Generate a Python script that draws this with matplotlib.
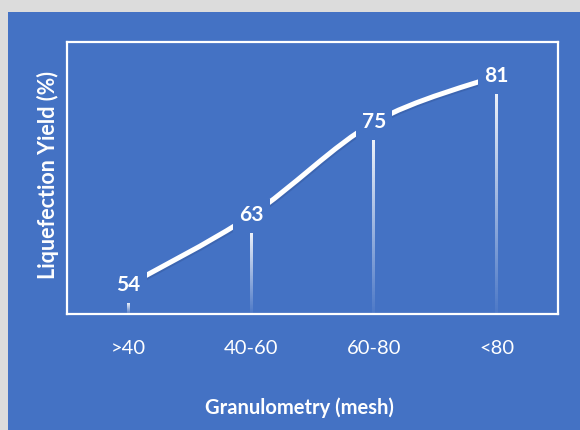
import numpy as np
import matplotlib
matplotlib.use("Agg")
import matplotlib.pyplot as plt
from matplotlib.path import Path
from matplotlib.patches import PathPatch, Rectangle
from matplotlib.transforms import offset_copy
import matplotlib.patheffects as pe

# liquefaction yield by particle size class
granulometry = [">40", "40-60", "60-80", "<80"]
yield_pct = [54, 63, 75, 81]

BLUE = "#4472C4"
plt.rcParams["font.family"] = ["Lato", "DejaVu Sans"]

fig = plt.figure(figsize=(5.8, 4.3), dpi=100, facecolor="#dcdcdc")
# blue chart area inside the light frame
fig.add_artist(Rectangle((8 / 580, 0), 1, 1 - 12 / 430, transform=fig.transFigure,
                         facecolor=BLUE, edgecolor="none", zorder=-5))

ax = fig.add_axes([67 / 580, 116 / 430, 491 / 580, 272 / 430])
ax.set_facecolor(BLUE)
ymin, ymax = 52.6, 87.7
x = np.arange(len(granulometry)) + 0.5
y = np.array(yield_pct, dtype=float)

for s in ax.spines.values():
    s.set_color("white")
    s.set_linewidth(1.6)
ax.set_yticks([])
ax.set_xticks(x)
ax.set_xticklabels(granulometry, color="white", fontsize=14.5)
ax.tick_params(axis="x", length=0, pad=19)

# thin drop bars fading towards the baseline
bars = ax.bar(x, y - ymin, bottom=ymin, width=0.024, color="none", edgecolor="none")
grad = np.zeros((100, 1, 4))
grad[..., :3] = 1.0
grad[:, 0, 3] = np.linspace(0.9, 0.05, 100)
for b in bars:
    bx, by = b.get_x(), b.get_y()
    im = ax.imshow(grad, extent=[bx, bx + b.get_width(), by, by + b.get_height()],
                   aspect="auto", origin="upper", zorder=2)
    im.set_clip_path(b)
ax.set_xlim(0, len(granulometry))
ax.set_ylim(ymin, ymax)

# smoothed line through the values, lifted to the label height
lift = offset_copy(ax.transData, fig=fig, y=13, units="points")
pts = np.column_stack([x, y])
ext = np.vstack([pts[0], pts, pts[-1]])
verts = [pts[0]]
codes = [Path.MOVETO]
for i in range(1, len(ext) - 2):
    p0, p1, p2, p3 = ext[i - 1], ext[i], ext[i + 1], ext[i + 2]
    verts += [p1 + (p2 - p0) / 6, p2 - (p3 - p1) / 6, p2]
    codes += [Path.CURVE4] * 3
line = PathPatch(Path(verts, codes), facecolor="none", edgecolor="white", lw=3.6,
                 transform=lift, zorder=3, capstyle="butt",
                 path_effects=[pe.SimpleLineShadow(offset=(0.8, -1.2), shadow_color="#2f4f8f", alpha=0.35),
                               pe.Normal()])
ax.add_patch(line)

for xi, yi in zip(x, yield_pct):
    ax.text(xi, yi, f"{yi}", transform=lift, ha="center", va="center", color="white",
            fontsize=15, fontweight="bold", zorder=4,
            bbox=dict(boxstyle="square,pad=0.3", facecolor=BLUE, edgecolor="none"))

fig.text(299 / 580, 1 - 408 / 430, "Granulometry (mesh)", ha="center", va="center",
         color="white", fontsize=14.5, fontweight="bold")
fig.text(48 / 580, 1 - 175 / 430, "Liquefection Yield (%)", ha="center", va="center",
         rotation=90, color="white", fontsize=15.5, fontweight="bold")

fig.savefig("out.png", dpi=100, facecolor=fig.get_facecolor())
